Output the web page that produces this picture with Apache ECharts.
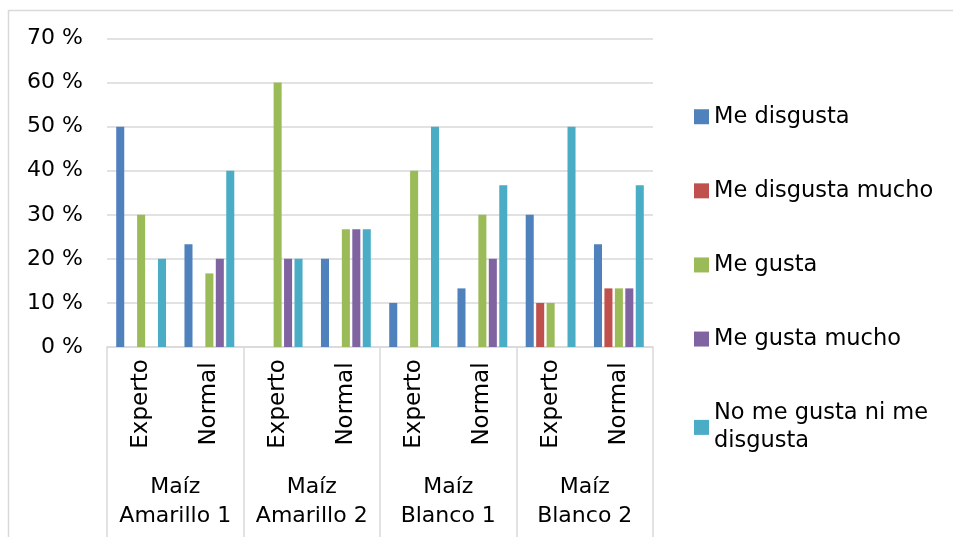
<!DOCTYPE html>
<html>
<head>
<meta charset="utf-8">
<script src="https://cdn.jsdelivr.net/npm/echarts@6/dist/echarts.min.js"></script>
<style>
  html, body { margin: 0; padding: 0; background: #ffffff; }
  #chart { width: 953px; height: 537px; }
</style>
</head>
<body>
<div id="chart"></div>
<script>
// Tasters' profile (inner tier) and maize variety (outer tier)
const profiles = ['Experto', 'Normal', 'Experto', 'Normal', 'Experto', 'Normal', 'Experto', 'Normal'];
const varieties = ['Maíz\nAmarillo 1', 'Maíz\nAmarillo 2', 'Maíz\nBlanco 1', 'Maíz\nBlanco 2'];

// Percentage of answers per rating
const meDisgusta        = [50, 23.3, 0, 20, 10, 13.3, 30, 23.3];
const meDisgustaMucho   = [0, 0, 0, 0, 0, 0, 10, 13.3];
const meGusta           = [30, 16.7, 60, 26.7, 40, 30, 10, 13.3];
const meGustaMucho      = [0, 20, 20, 26.7, 0, 20, 0, 13.3];
const niGustaNiDisgusta = [20, 40, 20, 26.7, 50, 36.7, 50, 36.7];

const seriesNames = ['Me disgusta', 'Me disgusta mucho', 'Me gusta', 'Me gusta mucho', 'No me gusta ni me disgusta'];
const seriesData = [meDisgusta, meDisgustaMucho, meGusta, meGustaMucho, niGustaNiDisgusta];
const seriesColors = ['#4f81bd', '#c0504d', '#9bbb59', '#8064a2', '#4bacc6'];

const FONT = 'DejaVu Sans';
const GRID_COLOR = '#d9d9d9';

const chart = echarts.init(document.getElementById('chart'), null, { renderer: 'canvas' });

chart.setOption({
  animation: false,
  backgroundColor: '#ffffff',
  textStyle: { fontFamily: FONT },
  graphic: [{
    type: 'rect',
    silent: true,
    shape: { x: 8.5, y: 10.5, width: 1000, height: 600 },
    style: { fill: 'none', stroke: GRID_COLOR, lineWidth: 1.5 }
  }],
  grid: { left: 107, right: 300, top: 38.5, bottom: 190, containLabel: false },
  legend: {
    orient: 'vertical',
    left: 694,
    top: 102.5,
    padding: 0,
    itemWidth: 15,
    itemHeight: 15,
    itemGap: 45.6,
    icon: 'rect',
    data: seriesNames,
    formatter: name => name === 'No me gusta ni me disgusta' ? 'No me gusta ni me\ndisgusta' : name,
    textStyle: { fontFamily: FONT, fontSize: 22.5, color: '#000000', lineHeight: 28.5, padding: [0, 0, 0, 0] }
  },
  xAxis: [
    {
      type: 'category',
      data: profiles,
      position: 'bottom',
      axisLine: { show: true, lineStyle: { color: GRID_COLOR, width: 1.5 } },
      axisTick: { show: false },
      axisLabel: {
        interval: 0,
        rotate: 90,
        align: 'center',
        verticalAlign: 'middle',
        margin: 57,
        fontFamily: FONT,
        fontSize: 23,
        color: '#000000'
      }
    },
    {
      type: 'category',
      data: varieties,
      position: 'bottom',
      axisLine: { show: false },
      axisTick: { show: true, interval: 0, length: 195, lineStyle: { color: GRID_COLOR, width: 1.5 } },
      axisLabel: {
        interval: 0,
        margin: 126,
        fontFamily: FONT,
        fontSize: 22,
        lineHeight: 29,
        color: '#000000',
        align: 'center'
      }
    }
  ],
  yAxis: {
    type: 'value',
    min: 0,
    max: 70,
    interval: 10,
    axisLine: { show: false },
    axisTick: { show: false },
    splitLine: { show: true, lineStyle: { color: GRID_COLOR, width: 1.5 } },
    axisLabel: {
      formatter: '{value} %',
      margin: 24,
      fontFamily: FONT,
      fontSize: 22,
      color: '#000000'
    }
  },
  series: seriesNames.map((name, i) => ({
    name: name,
    type: 'bar',
    xAxisIndex: 0,
    data: seriesData[i],
    barGap: '30%',
    barCategoryGap: '27%',
    itemStyle: { color: seriesColors[i] }
  }))
});
</script>
</body>
</html>
